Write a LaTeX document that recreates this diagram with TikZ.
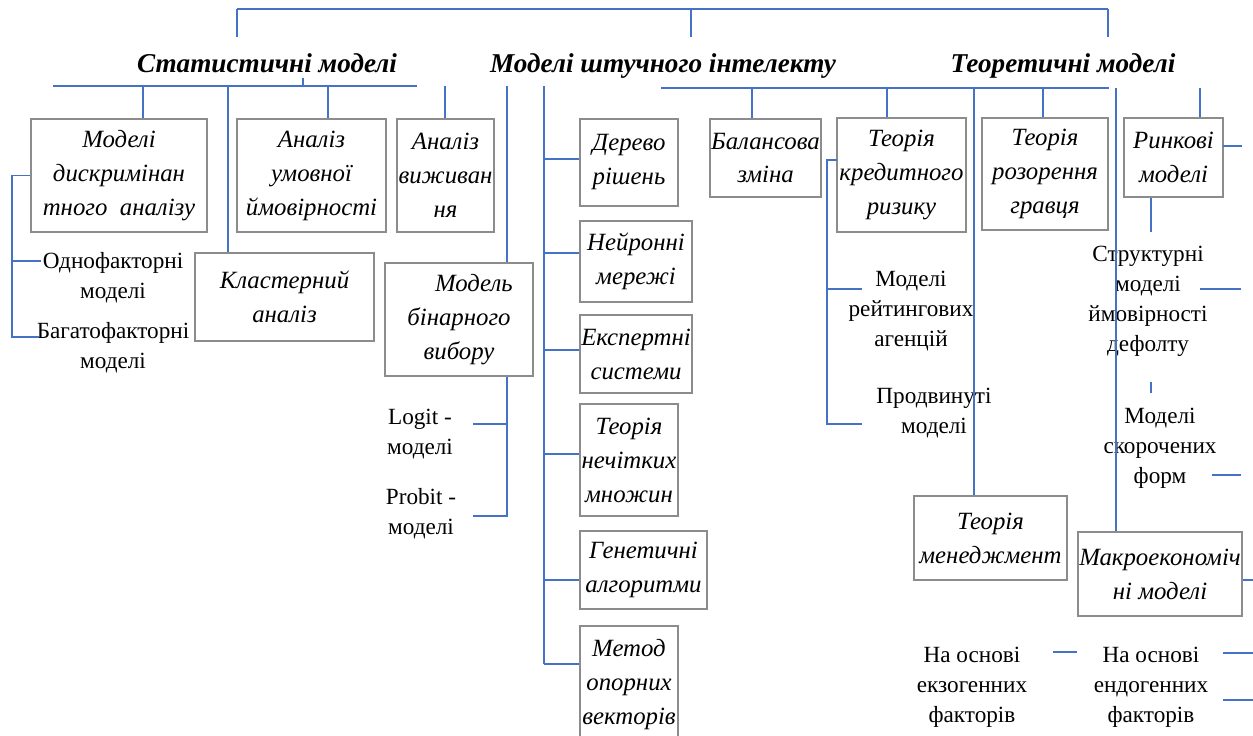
\documentclass[tikz,border=0pt]{standalone}
\usepackage{fontspec}
\setmainfont{Liberation Serif}
\usetikzlibrary{positioning,calc}
\definecolor{linkblue}{HTML}{4472C4}
\definecolor{boxgray}{HTML}{8C8C8C}

\begin{document}
\begin{tikzpicture}[x=0.5pt,y=-0.5pt,
    box/.style={draw=boxgray, line width=0.7pt, inner sep=0pt, align=center,
      font=\fontsize{12.4}{17}\selectfont\itshape},
    plain/.style={align=center, inner sep=0pt, font=\fontsize{11.6}{15}\selectfont},
    head/.style={anchor=base, inner sep=0pt, font=\fontsize{13.6}{17}\selectfont\bfseries\itshape},
    link/.style={draw=linkblue, line width=0.7pt}]
    \useasboundingbox (0,0) rectangle (1253,735);

    % headings
    \node[head] (stat) at (267,72) {Статистичні моделі};
    \node[head] (ai) at (663,72) {Моделі штучного інтелекту};
    \node[head] (theo) at (1063,72) {Теоретичні моделі};

    % top bracket
    \coordinate (t1) at (237,9); \coordinate (t2) at (691,9); \coordinate (t3) at (1108,9);
    \draw[link] (t1) -- (t3);
    \draw[link] (t1) -- (237,37); \draw[link] (t2) -- (691,37); \draw[link] (t3) -- (1108,37);

    % statistical models
    \node[box, minimum width=88pt, minimum height=56.5pt] (dis) at (119,175.5) {Моделі\\дискримінан\\тного~ аналізу};
    \node[box, minimum width=74.5pt, minimum height=56.5pt] (cond) at (311.5,175.5) {Аналіз\\умовної\\ймовірності};
    \node[box, minimum width=48.5pt, minimum height=56.5pt] (surv) at (445.5,175.5) {Аналіз\\виживан\\ня};
    \node[box, minimum width=89.5pt, minimum height=44pt] (clus) at (284.5,297) {Кластерний\\аналіз};
    \node[box, minimum width=74pt, minimum height=56.5pt] (bin) at (459,319.5) {\hspace*{1.2em}Модель\\бінарного\\вибору};
    \node[plain] (one) at (113,278) {Однофакторні\\моделі};
    \node[plain] (multi) at (113,348) {Багатофакторні\\моделі};
    \node[plain] (logit) at (420,434) {Logit -\\моделі};
    \node[plain] (probit) at (421,514) {Probit -\\моделі};

    \coordinate (sb) at (53,86); \coordinate (se) at (417,86);
    \draw[link] (sb) -- (se);
    \draw[link] (303,78) -- (303,86);
    \foreach \x/\b in {143/dis, 228/clus, 328/cond, 445/surv}{
      \coordinate (d) at (\x,86);
      \draw[link] (d) -- (d |- \b.north);
    }
    \coordinate (l1) at (12,261); \coordinate (l2) at (12,337);
    \draw[link] (dis.west) -| (l2) -- (39,337);
    \draw[link] (l1) -- (41,261);
    \coordinate (b1) at (507,86);
    \draw[link] (b1) -- (b1 |- bin.north);
    \draw[link] (b1 |- bin.south) -- (507,516) -- (473,516);
    \draw[link] (507,424) -- (473,424);

    % artificial intelligence models
    \node[box, minimum width=49pt, minimum height=43.5pt] (tree) at (629,162.5) {Дерево\\рішень};
    \node[box, minimum width=56pt, minimum height=40.5pt] (neur) at (636,261.5) {Нейронні\\мережі};
    \node[box, minimum width=56pt, minimum height=39pt] (exp) at (636,354) {Експертні\\системи};
    \node[box, minimum width=49pt, minimum height=56pt] (fuzzy) at (629,460) {Теорія\\нечітких\\множин};
    \node[box, minimum width=63.5pt, minimum height=39pt] (gen) at (643.5,570) {Генетичні\\алгоритми};
    \node[box, minimum width=49pt, minimum height=59pt] (svm) at (629,685) {Метод\\опорних\\векторів};

    \coordinate (a1) at (544,86);
    \draw[link] (a1) -- (544,664);
    \foreach \b/\y in {tree/159, neur/253, exp/350, fuzzy/454, gen/580, svm/664}{
      \coordinate (d) at (544,\y);
      \draw[link] (d) -- (d -| \b.west);
    }

    % theoretical models
    \node[box, minimum width=55.5pt, minimum height=39pt] (bal) at (765.5,158) {Балансова\\зміна};
    \node[box, minimum width=64.5pt, minimum height=57pt] (credit) at (901.5,175) {Теорія\\кредитного\\ризику};
    \node[box, minimum width=63pt, minimum height=56pt] (ruin) at (1045,174) {Теорія\\розорення\\гравця};
    \node[box, minimum width=49.5pt, minimum height=39.5pt] (market) at (1173.5,157.5) {Ринкові\\моделі};
    \node[box, minimum width=76.5pt, minimum height=42pt] (mgmt) at (990.5,538) {Теорія\\менеджмент};
    \node[box, minimum width=82pt, minimum height=42pt] (macro) at (1160,574) {Макроекономіч\\ні моделі};
    \node[plain] (rating) at (911,311) {Моделі\\рейтингових\\агенцій};
    \node[plain] (adv) at (934,413.5) {Продвинуті\\моделі};
    \node[plain] (struct) at (1148,301.5) {Структурні\\моделі\\ймовірності\\дефолту};
    \node[plain] (reduced) at (1160,448) {Моделі\\скорочених\\форм};
    \node[plain] (exo) at (972,687) {На основі\\екзогенних\\факторів};
    \node[plain] (endo) at (1151,687) {На основі\\ендогенних\\факторів};

    \coordinate (tb) at (661,88); \coordinate (te) at (1109,88);
    \draw[link] (tb) -- (te);
    \foreach \x/\b in {752/bal, 887/credit, 974/mgmt, 1043/ruin, 1116/macro}{
      \coordinate (d) at (\x,88);
      \draw[link] (d) -- (d |- \b.north);
    }
    \coordinate (m1) at (1200,88);
    \draw[link] (m1) -- (m1 |- market.north);
    \draw[link] (1223,146) -- (1242,146);
    \coordinate (m2) at (1151,232);
    \draw[link] (m2 |- market.south) -- (m2);
    \coordinate (c1) at (827,424);
    \draw[link] (837,160) -| (c1) -- (862,424);
    \draw[link] (827,289) -- (862,289);
    \draw[link] (1200,289) -- (1241,289);
    \draw[link] (1151,382) -- (1151,393);
    \draw[link] (1212,475) -- (1241,475);
    \draw[link] (macro.east |- 0,580) -- (1253,580);
    \draw[link] (1053,652) -- (1077,652);
    \draw[link] (1223,653) -- (1253,653);
    \draw[link] (1223,700) -- (1253,700);
\end{tikzpicture}
\end{document}
